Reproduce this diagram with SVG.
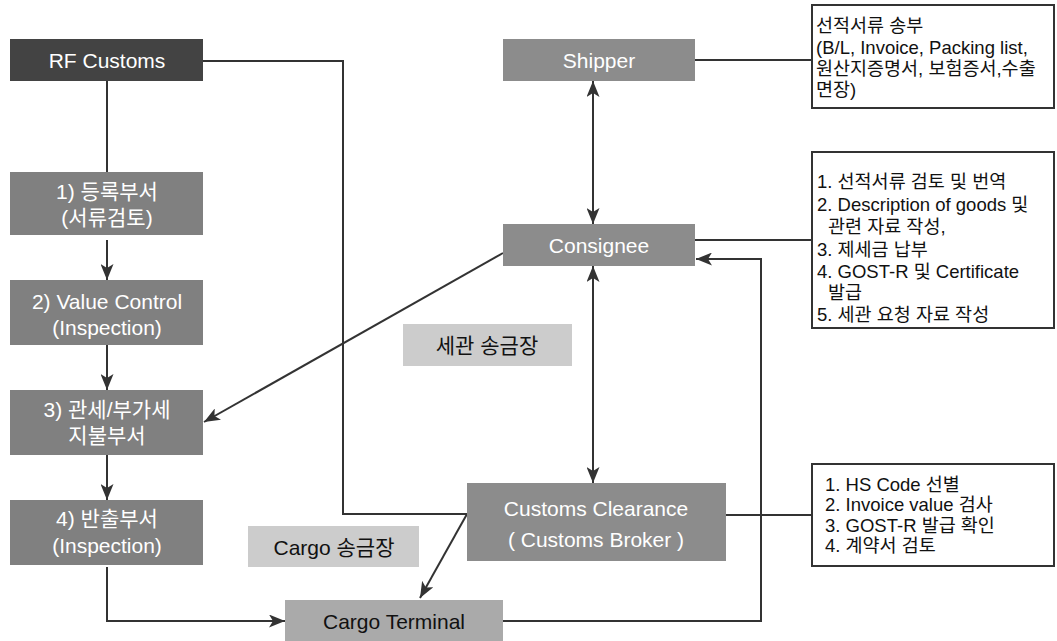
<svg xmlns="http://www.w3.org/2000/svg" width="1057" height="641" viewBox="0 0 1057 641">
<style>
text{font-family:"Liberation Sans","Noto Sans CJK KR",sans-serif;}
.dk{fill:#434343;}
.md{fill:#808080;}
.mm{fill:#8c8c8c;}
.lt{fill:#aaaaaa;}
.pl{fill:#cccccc;}
.wt{fill:#ffffff;font-size:21px;text-anchor:middle;}
.bk{fill:#111111;font-size:21px;text-anchor:middle;}
.note{fill:#ffffff;stroke:#333333;stroke-width:2;}
.nt{fill:#111111;font-size:18.5px;}
.ln{fill:none;stroke:#333333;stroke-width:2;}
</style>
<defs>
<marker id="ah" viewBox="0 0 16 13" refX="16" refY="6.5" markerWidth="16" markerHeight="13" markerUnits="userSpaceOnUse" orient="auto-start-reverse">
<path d="M0,0 L16,6.5 L0,13 L4,6.5 z" fill="#333333"/>
</marker>
</defs>
<rect width="1057" height="641" fill="#ffffff"/>

<g id="connectors">
<line class="ln" x1="107" y1="81" x2="107" y2="172"/>
<line class="ln" x1="107" y1="240" x2="107" y2="280" marker-end="url(#ah)"/>
<line class="ln" x1="107" y1="345" x2="107" y2="390" marker-end="url(#ah)"/>
<line class="ln" x1="107" y1="455" x2="107" y2="500" marker-end="url(#ah)"/>
<path class="ln" d="M107,567 V621 H285" marker-end="url(#ah)"/>
<path class="ln" d="M203,61 H343 V514 H467"/>
<line class="ln" x1="467" y1="514" x2="420" y2="598" marker-end="url(#ah)"/>
<line class="ln" x1="503" y1="253" x2="204" y2="422" marker-end="url(#ah)"/>
<line class="ln" x1="593" y1="81" x2="593" y2="224" marker-start="url(#ah)" marker-end="url(#ah)"/>
<line class="ln" x1="593" y1="266" x2="593" y2="483" marker-start="url(#ah)" marker-end="url(#ah)"/>
<path class="ln" d="M503,621 H761 V259 H696" marker-end="url(#ah)"/>
<line class="ln" x1="695" y1="60" x2="812" y2="60"/>
<line class="ln" x1="695" y1="240" x2="812" y2="240"/>
<line class="ln" x1="726" y1="515" x2="812" y2="515"/>
</g>

<g id="rf-customs">
<rect class="dk" x="10" y="39" width="193" height="42"/>
<text class="wt" x="107" y="68" font-size="22">RF Customs</text>
</g>
<g id="dept1">
<rect class="md" x="10" y="172" width="193" height="63"/>
<text class="wt" x="107" y="199">1) 등록부서</text>
<text class="wt" x="107" y="225">(서류검토)</text>
</g>
<g id="dept2">
<rect class="md" x="10" y="280" width="193" height="65"/>
<text class="wt" x="107" y="309">2) Value Control</text>
<text class="wt" x="107" y="335">(Inspection)</text>
</g>
<g id="dept3">
<rect class="md" x="10" y="390" width="193" height="65"/>
<text class="wt" x="107" y="417">3) 관세/부가세</text>
<text class="wt" x="107" y="443">지불부서</text>
</g>
<g id="dept4">
<rect class="md" x="10" y="500" width="193" height="65"/>
<text class="wt" x="107" y="526">4) 반출부서</text>
<text class="wt" x="107" y="553">(Inspection)</text>
</g>
<g id="cargo-terminal">
<rect class="lt" x="285" y="600" width="218" height="43"/>
<text class="bk" x="394" y="629" font-size="23">Cargo Terminal</text>
</g>
<g id="cargo-invoice">
<rect class="pl" x="248" y="526" width="171" height="41"/>
<text class="bk" x="334" y="555">Cargo 송금장</text>
</g>
<g id="customs-invoice">
<rect class="pl" x="403" y="324" width="169" height="42"/>
<text class="bk" x="487" y="353">세관 송금장</text>
</g>
<g id="shipper">
<rect class="mm" x="503" y="39" width="192" height="42"/>
<text class="wt" x="599" y="68" font-size="23">Shipper</text>
</g>
<g id="consignee">
<rect class="mm" x="503" y="224" width="192" height="42"/>
<text class="wt" x="599" y="253" font-size="23">Consignee</text>
</g>
<g id="customs-clearance">
<rect class="mm" x="467" y="483" width="259" height="78"/>
<text class="wt" x="596" y="516">Customs Clearance</text>
<text class="wt" x="596" y="547">( Customs Broker )</text>
</g>
<g id="note-shipper">
<rect class="note" x="812" y="5" width="242" height="103"/>
<text class="nt" x="816" y="32">선적서류 송부</text>
<text class="nt" x="816" y="54">(B/L, Invoice, Packing list,</text>
<text class="nt" x="816" y="75">원산지증명서, 보험증서,수출</text>
<text class="nt" x="816" y="96">면장)</text>
</g>
<g id="note-consignee">
<rect class="note" x="812" y="152" width="242" height="176"/>
<text class="nt" x="817" y="188">1. 선적서류 검토 및 번역</text>
<text class="nt" x="817" y="211">2. Description of goods 및</text>
<text class="nt" x="828" y="233">관련 자료 작성,</text>
<text class="nt" x="817" y="256">3. 제세금 납부</text>
<text class="nt" x="817" y="278">4. GOST-R 및 Certificate</text>
<text class="nt" x="828" y="299">발급</text>
<text class="nt" x="817" y="321">5. 세관 요청 자료 작성</text>
</g>
<g id="note-broker">
<rect class="note" x="812" y="464" width="242" height="102"/>
<text class="nt" x="825" y="491">1. HS Code 선별</text>
<text class="nt" x="825" y="511">2. Invoice value 검사</text>
<text class="nt" x="825" y="532">3. GOST-R 발급 확인</text>
<text class="nt" x="825" y="552">4. 계약서 검토</text>
</g>
</svg>
